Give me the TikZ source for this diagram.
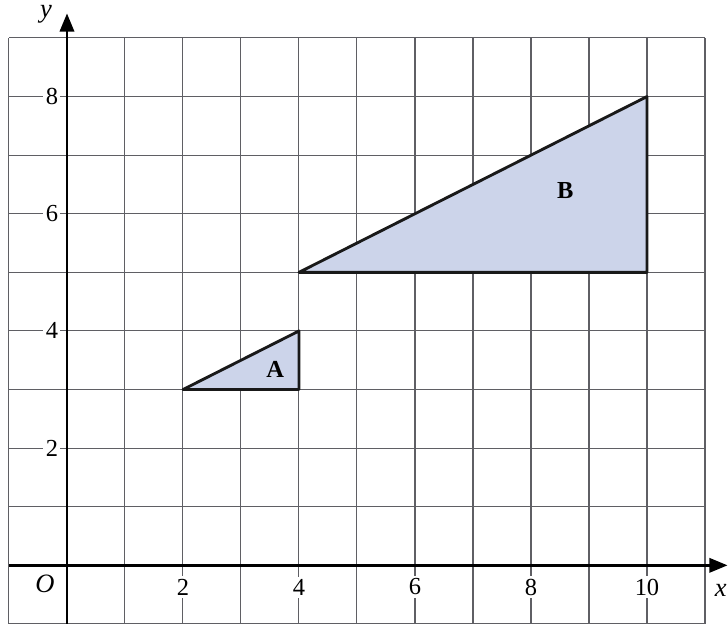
\documentclass[tikz,border=0pt]{standalone}
\usepackage{fontspec}
\setmainfont{Liberation Serif}
\usetikzlibrary{arrows.meta}
\definecolor{gridc}{RGB}{95,95,100}
\definecolor{shade}{RGB}{204,212,234}
\begin{document}
\begin{tikzpicture}[x=1cm,y=1.0103cm,
  gridline/.style={draw=gridc,line width=0.5pt},
  axis/.style={line width=1.4pt,-{Triangle[length=9pt,width=7pt]}},
  tri/.style={draw=black!90,line width=1.4pt,fill=shade,line join=round},
  ticklab/.style={fill=white,inner sep=1.2pt,font=\fontsize{12}{14}\selectfont},
  axlab/.style={font=\fontsize{13}{15}\selectfont\itshape},
  trilab/.style={font=\fontsize{12}{14}\selectfont\bfseries}]
\useasboundingbox (-1.155,-1.052) rectangle (11.397,9.648);
% grid
\foreach \i in {-1,...,11} \draw[gridline] (\i,-1) -- (\i,9);
\foreach \j in {-1,...,9} \draw[gridline] (-1,\j) -- (11,\j);
% triangles
\coordinate (a1) at (2,3); \coordinate (a2) at (4,3); \coordinate (a3) at (4,4);
\coordinate (b1) at (4,5); \coordinate (b2) at (10,5); \coordinate (b3) at (10,8);
\draw[tri] (a1) -- (a2) -- (a3) -- cycle;
\draw[tri] (b1) -- (b2) -- (b3) -- cycle;
\node[trilab] (labA) at (3.59,3.35) {A};
\node[trilab] (labB) at (8.59,6.40) {B};
% axes
\coordinate (o) at (0,0);
\coordinate (xend) at (11.39,0);
\coordinate (ystart) at (0,-1);
\coordinate (yend) at (0,9.42);
\coordinate (xstart) at (-1,0);
\draw[axis] (xstart) -- (xend);
\draw[axis] (ystart) -- (yend);
% tick labels
\foreach \i in {2,4,6,8,10} \node[ticklab] (xt\i) at (\i,-0.37) {\i};
\foreach \j in {2,4,6,8} \node[ticklab] (yt\j) at (-0.26,\j) {\j};
\node[axlab] (O) at (-0.38,-0.32) {O};
\node[axlab] (xl) at (11.27,-0.42) {x};
\node[axlab] (yl) at (-0.36,9.40) {y};
\end{tikzpicture}
\end{document}
